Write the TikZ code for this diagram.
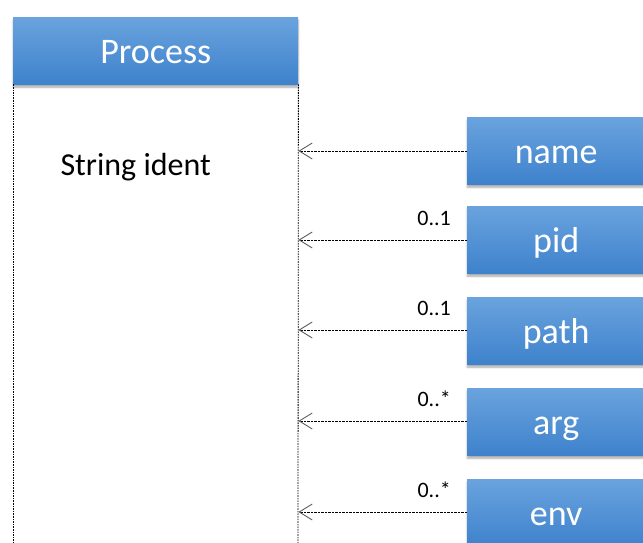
\documentclass[tikz,border=0pt]{standalone}
\usepackage{fontspec}
\setmainfont{Carlito}
\usetikzlibrary{arrows.meta,shadows.blur}
\definecolor{boxtop}{RGB}{106,163,222}
\definecolor{boxbot}{RGB}{62,130,204}
\definecolor{tipgray}{RGB}{95,95,95}
\tikzset{
  bluebox/.style={rectangle, minimum height=67pt, inner sep=0pt,
    text height=25pt, text depth=0pt,
    top color=boxtop, bottom color=boxbot, draw=none,
    blur shadow={shadow xshift=0pt, shadow yshift=-3pt, shadow blur steps=6, shadow opacity=35},
    text=white, font=\fontsize{36}{36}\selectfont},
  lifeline/.style={draw=black, line width=0.8pt, dash pattern=on 1.6pt off 1pt},
  link/.style={draw=black, line width=0.7pt, dash pattern=on 2.5pt off 1pt,
    -{Straight Barb[length=13pt,width=16pt,line width=0.9pt,color=tipgray]}},
  mult/.style={font=\fontsize{22}{22}\selectfont, anchor=south east, inner sep=1pt}
}
\begin{document}
\begin{tikzpicture}[x=1pt,y=-1pt]
  \useasboundingbox (0,0) rectangle (643,543);
  \clip (0,0) rectangle (643,543);

  % class box with its two lifelines
  \node[bluebox, minimum width=285pt, anchor=north west] (proc) at (13,17) {Process};
  \coordinate (lbot) at (13,543);
  \coordinate (rbot) at (298,543);
  \draw[lifeline] (proc.south west) -- (lbot);
  \draw[lifeline] (proc.south east) -- (rbot);

  \node[font=\fontsize{32}{32}\selectfont, anchor=west] (ident) at (57,167) {String ident};

  % attribute boxes
  \node[bluebox, minimum width=190pt, anchor=north west] (name) at (467,117) {\hspace*{-12pt}name};
  \node[bluebox, minimum width=190pt, anchor=north west] (pid)  at (467,206) {\hspace*{-12pt}pid};
  \node[bluebox, minimum width=190pt, anchor=north west] (path) at (467,297) {\hspace*{-12pt}path};
  \node[bluebox, minimum width=190pt, anchor=north west] (arg)  at (467,388) {\hspace*{-12pt}arg};
  \node[bluebox, minimum width=190pt, anchor=north west] (env)  at (467,479) {\hspace*{-12pt}env};

  % associations to the class
  \coordinate (nameY) at (467,151);
  \coordinate (pidY)  at (467,240);
  \coordinate (pathY) at (467,330);
  \coordinate (argY)  at (467,421);
  \coordinate (envY)  at (467,512);
  \draw[link] (nameY) -- (nameY -| proc.east);
  \draw[link] (pidY)  -- (pidY -| proc.east);
  \draw[link] (pathY) -- (pathY -| proc.east);
  \draw[link] (argY)  -- (argY -| proc.east);
  \draw[link] (envY)  -- (envY -| proc.east);

  % multiplicities
  \node[mult] (mpid)  at (452,227) {0..1};
  \node[mult] (mpath) at (452,317) {0..1};
  \node[mult] (marg)  at (452,408) {0..*};
  \node[mult] (menv)  at (452,499) {0..*};
\end{tikzpicture}
\end{document}
